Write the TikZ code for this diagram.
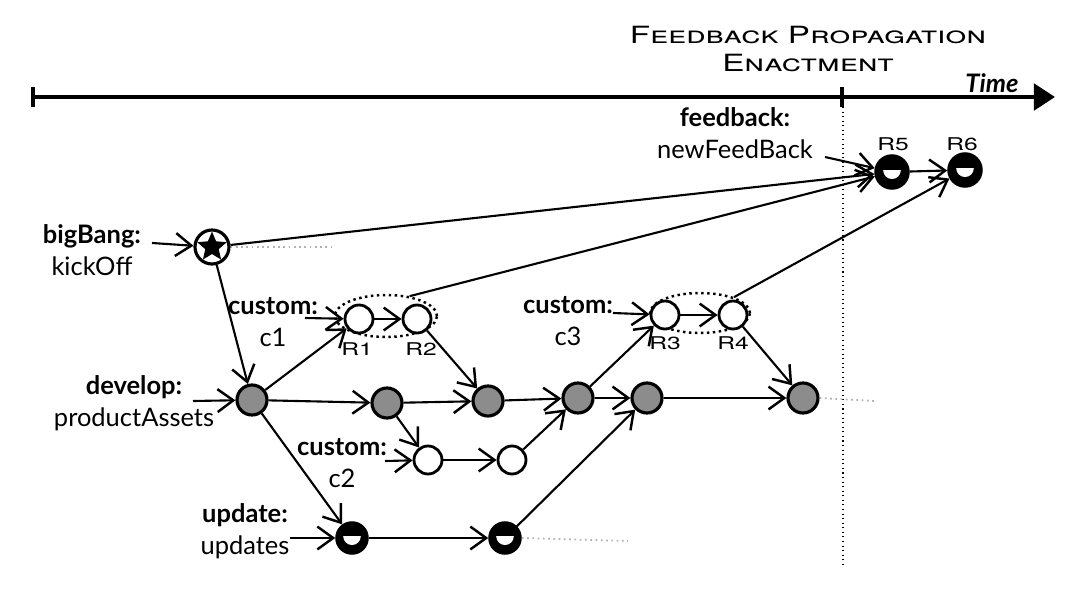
\documentclass[tikz,border=0pt]{standalone}
\usepackage{fontspec}
\setmainfont{Lato}
\newfontfamily\capfont[FakeStretch=1.4]{TeX Gyre Heros}
\usetikzlibrary{arrows.meta,shapes.geometric}
\tikzset{
  flow/.style={line width=1.2pt,-{Straight Barb[length=9pt,width=13pt,line width=1.4pt]}},
  asset/.style={circle,draw,line width=1.8pt,fill=black!45,minimum size=0.6cm,inner sep=0pt},
  custom/.style={circle,draw,line width=1.6pt,fill=white,minimum size=0.56cm,inner sep=0pt},
  upd/.style={circle,draw,line width=2pt,fill=black,minimum size=0.6cm,inner sep=0pt,
    path picture={\fill[white] (path picture bounding box.center) ++(-5pt,1pt)
      arc[start angle=180,end angle=360,radius=5pt] -- cycle;}},
  group/.style={ellipse,draw,dotted,line width=1.4pt,inner sep=0pt},
  lbl/.style={align=center,font=\fontsize{14.5}{18}\selectfont},
  rname/.style={font=\capfont\fontsize{10}{10}\selectfont},
  trail/.style={gray!60,dotted,line width=1pt},
}
\begin{document}
\begin{tikzpicture}[x=0.02cm,y=-0.02cm]
    \useasboundingbox (0,0) rectangle (1086,592);
    % Time line
    \draw[line width=2.4pt,-{Triangle[length=12pt,width=15pt]}] (33,97) -- (1055,97);
    \draw[line width=2.4pt] (33,87) -- (33,107);
    \draw[line width=2.4pt] (842,87) -- (842,107);
    \draw[dotted,line width=0.6pt] (843,107) -- (843,565);
    \node[font=\bfseries\itshape\fontsize{14.5}{16}\selectfont] (time) at (992,83) {Time};
    \node[font=\capfont\fontsize{13.5}{15.5}\selectfont\scshape,align=center] (title) at (808,49) {Feedback Propagation\\Enactment};
    % labels
    \node[lbl] (bbl) at (92,250) {\textbf{bigBang:}\\kickOff};
    \node[lbl] (devl) at (134,403) {\textbf{develop:}\\productAssets};
    \node[lbl] (c1l) at (273,322) {\textbf{custom:}\\c1};
    \node[lbl] (c2l) at (342,463) {\textbf{custom:}\\c2};
    \node[lbl] (c3l) at (568,321) {\textbf{custom:}\\c3};
    \node[lbl] (updl) at (245,531) {\textbf{update:}\\updates};
    \node[lbl] (fbl) at (735,133) {\textbf{feedback:}\\newFeedBack};
    % bigBang
    \node[circle,draw,line width=1.8pt,fill=white,minimum size=0.68cm,inner sep=0pt] (bang) at (212,247) {};
    \node[star,star points=5,star point ratio=2.2,fill=black,minimum size=0.62cm,inner sep=0pt] (bangstar) at (bang) {};
    % product assets
    \node[asset] (D1) at (252,400) {};
    \node[asset] (D2) at (387,403) {};
    \node[asset] (D3) at (488,401) {};
    \node[asset] (D4) at (578,398) {};
    \node[asset] (D5) at (647,398) {};
    \node[asset] (D6) at (803,398) {};
    % customisations
    \node[group,minimum width=2.04cm,minimum height=0.84cm] (grp1) at (386,316) {};
    \node[group,minimum width=2cm,minimum height=0.8cm] (grp2) at (700,313) {};
    \node[custom] (R1) at (359,319) {};
    \node[custom] (R2) at (417,319) {};
    \node[custom] (R3) at (665,315) {};
    \node[custom] (R4) at (733,315) {};
    \node[custom] (C2a) at (428,460) {};
    \node[custom] (C2b) at (512,460) {};
    % updates and feedback
    \node[upd] (U1) at (352,538) {};
    \node[upd] (U2) at (505,538) {};
    \node[upd,minimum size=0.64cm] (R5) at (892,172) {};
    \node[upd,minimum size=0.64cm] (R6) at (965,170) {};
    \node[rname] (r1) at (357,349) {R1};
    \node[rname] (r2) at (421,349) {R2};
    \node[rname] (r3) at (665,343) {R3};
    \node[rname] (r4) at (733,343) {R4};
    \node[rname] (r5) at (893,144) {R5};
    \node[rname] (r6) at (962,144) {R6};
    % free ends
    \coordinate (bbin) at (152,243);
    \coordinate (devin) at (193,401);
    \coordinate (c1in) at (305,318);
    \coordinate (c2in) at (385,461);
    \coordinate (c3in) at (613,313);
    \coordinate (updin) at (290,538);
    \coordinate (fbin) at (825,157);
    \coordinate (bangend) at (335,247);
    \coordinate (D6end) at (875,401);
    \coordinate (U2end) at (628,541);
    % trails
    \draw[trail] (bang.east) -- (bangend);
    \draw[trail] (D6.east) -- (D6end);
    \draw[trail] (U2.east) -- (U2end);
    % connectors
    \draw[flow] (bbin) -- (bang);
    \draw[flow] (devin) -- (D1);
    \draw[flow] (c1in) -- (R1);
    \draw[flow] (c2in) -- (C2a);
    \draw[flow] (c3in) -- (R3);
    \draw[flow] (updin) -- (U1);
    \draw[flow] (fbin) -- (R5);
    \draw[flow] (bang) -- (D1);
    \draw[flow] (bang) -- (R5);
    \draw[flow] (grp1.40) -- (R5);
    \draw[flow] (grp2.25) -- (R6);
    \draw[flow] (R5) -- (R6);
    \draw[flow] (D1) -- (R1);
    \draw[flow] (R1) -- (R2);
    \draw[flow] (R2) -- (D3);
    \draw[flow] (D1) -- (D2);
    \draw[flow] (D2) -- (D3);
    \draw[flow] (D2) -- (C2a);
    \draw[flow] (D1) -- (U1);
    \draw[flow] (C2a) -- (C2b);
    \draw[flow] (C2b) -- (D4);
    \draw[flow] (D3) -- (D4);
    \draw[flow] (D4) -- (R3);
    \draw[flow] (R3) -- (R4);
    \draw[flow] (R4) -- (D6);
    \draw[flow] (D4) -- (D5);
    \draw[flow] (D5) -- (D6);
    \draw[flow] (U1) -- (U2);
    \draw[flow] (U2) -- (D5);
\end{tikzpicture}
\end{document}
